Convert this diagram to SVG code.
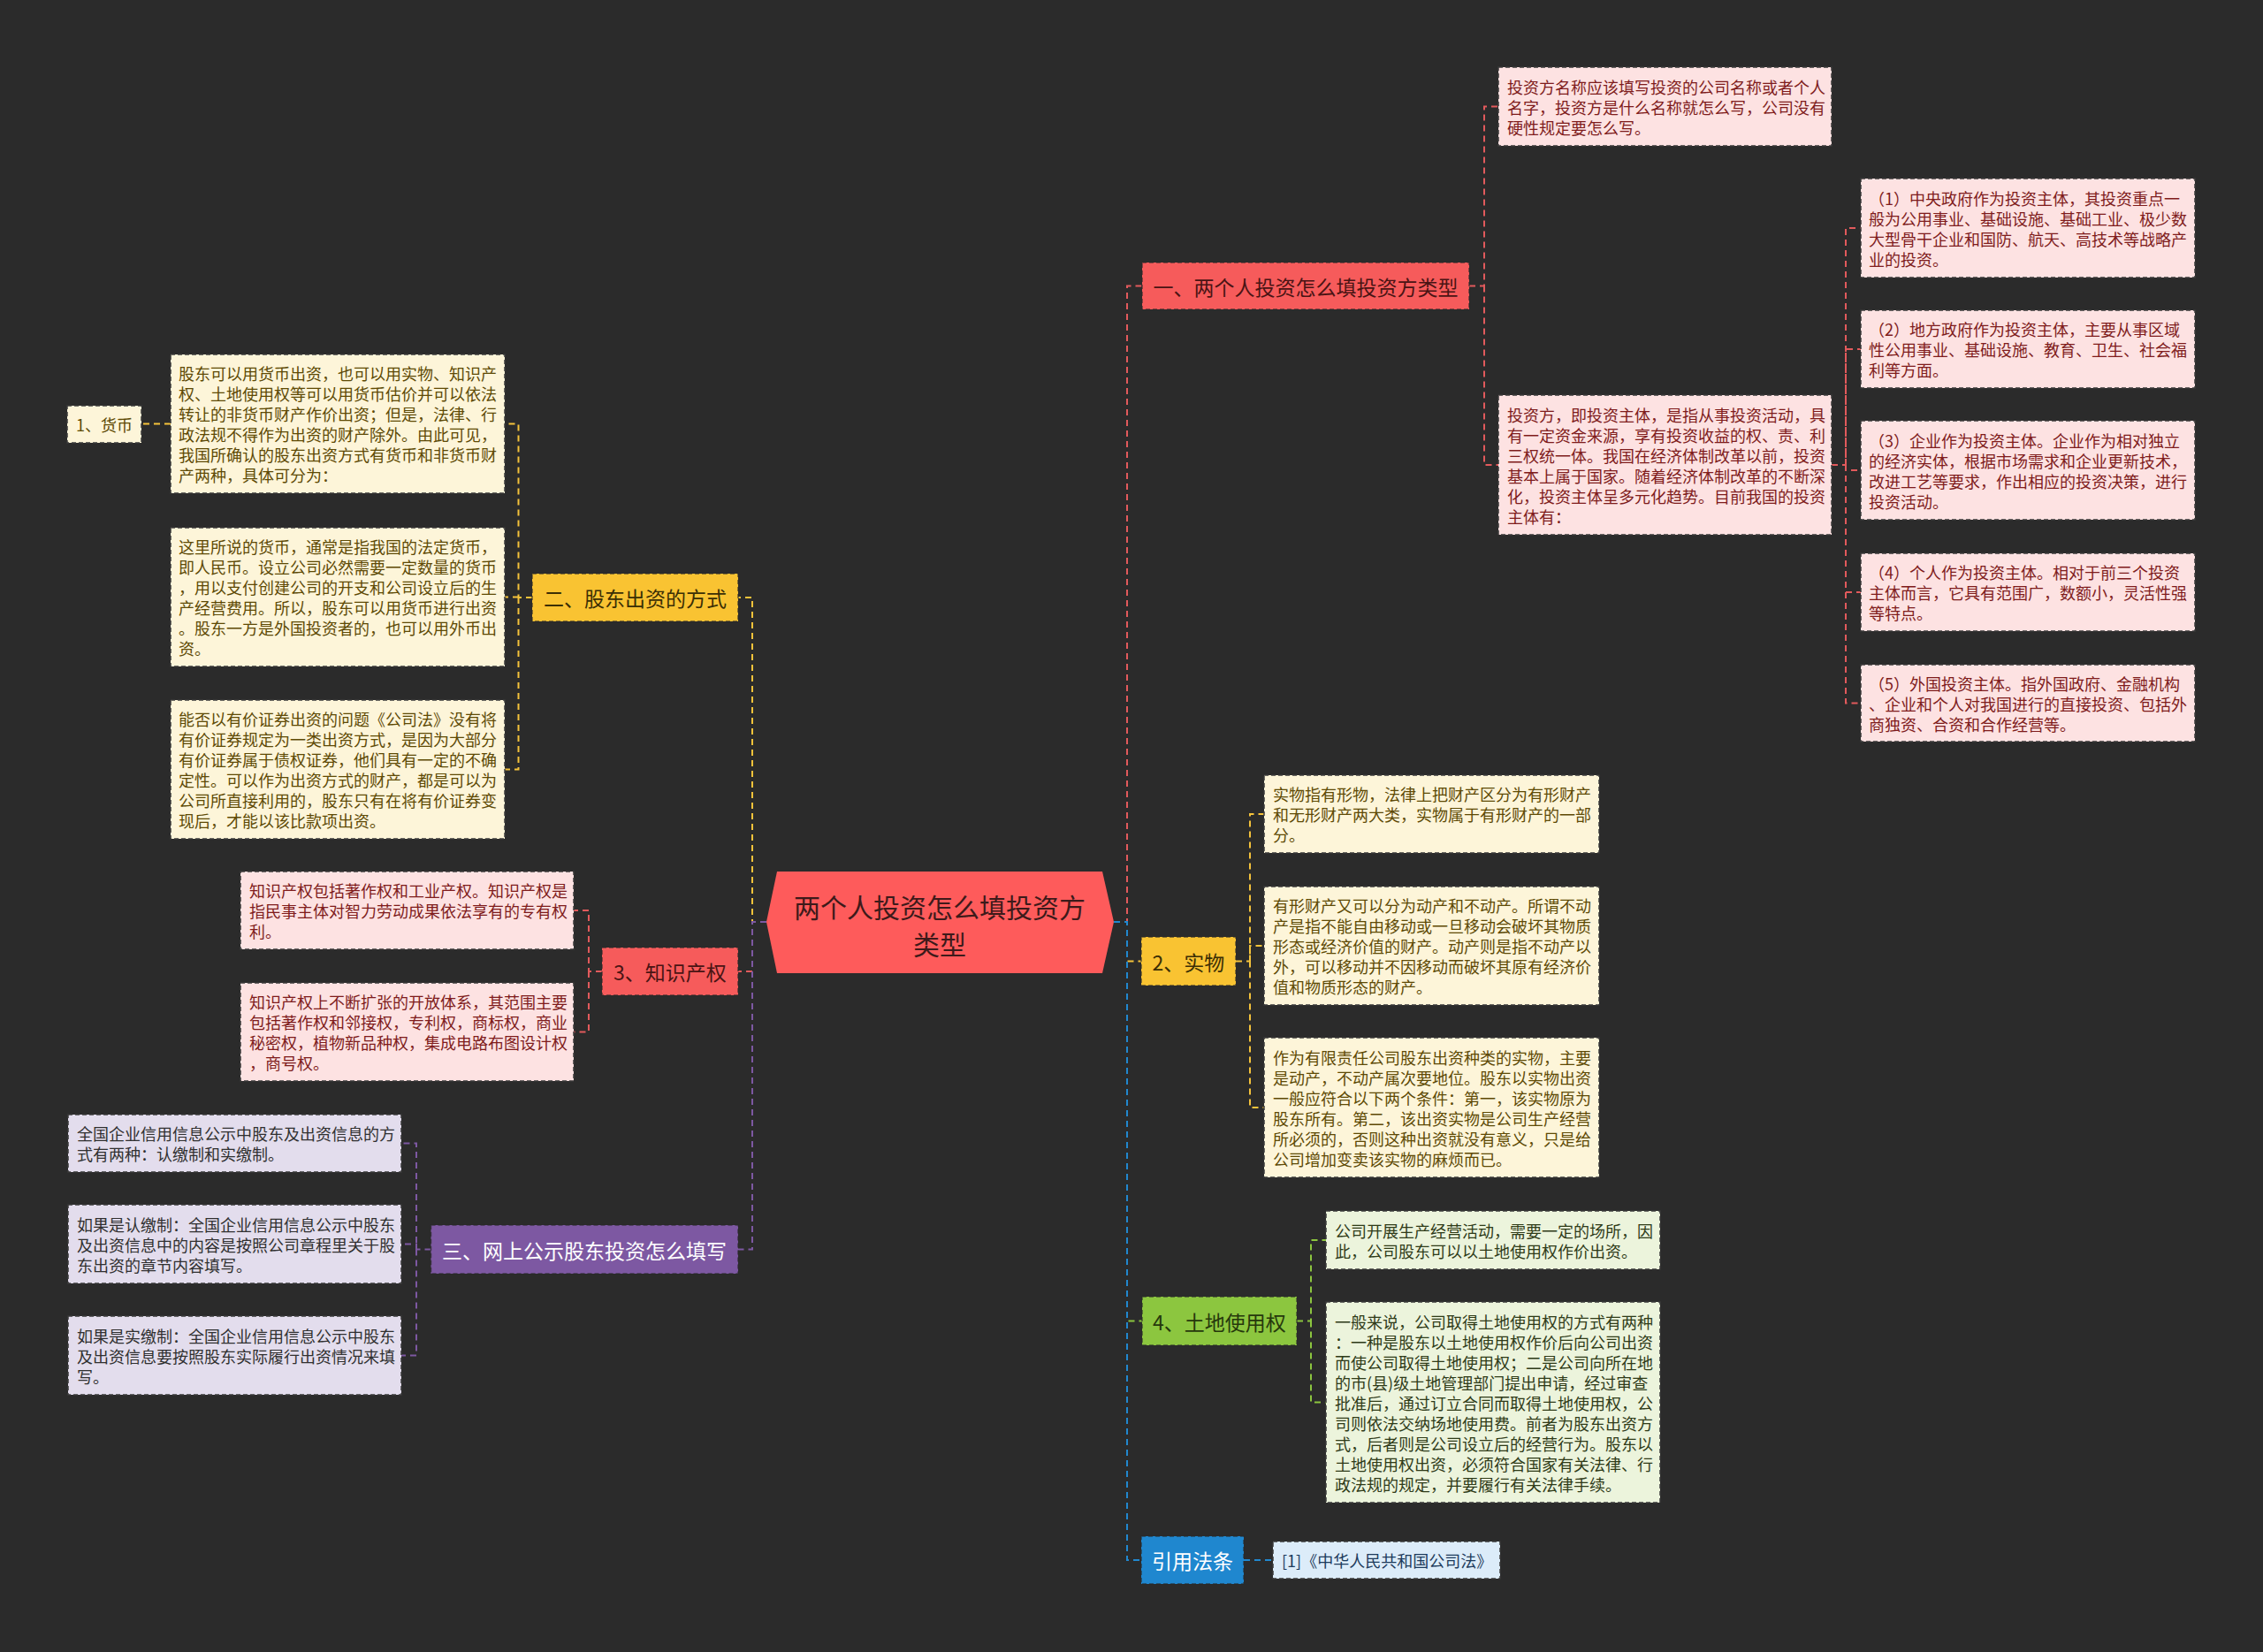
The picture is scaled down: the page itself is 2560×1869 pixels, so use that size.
<svg xmlns="http://www.w3.org/2000/svg" width="2560" height="1869" viewBox="0 0 2560 1869">
<style>
text{font-family:"Noto Sans CJK SC","Microsoft YaHei",sans-serif;dominant-baseline:central}
.t{font-size:18px}
.m{font-size:23px;text-anchor:middle}
.c{font-size:30px;text-anchor:middle;fill:#3d1a1a}
.box{stroke:#3a3a3a;stroke-width:1.5;stroke-dasharray:5 3}
.mb{stroke:#2a2a2a;stroke-opacity:.7;stroke-width:1.5;stroke-dasharray:5 3}
.pk{fill:#fde2e2}.pkt{fill:#7f1c1c}
.cr{fill:#fdf5d9}.crt{fill:#5e4a05}
.lv{fill:#e3dded}.lvt{fill:#303030}
.gr{fill:#ecf4dc}.grt{fill:#2f3b18}
.bl{fill:#dcecf9}.blt{fill:#1d3b5c}
.ln{fill:none;stroke-width:2;stroke-dasharray:7 5}
.lr{stroke:#e25a5c}.ly{stroke:#f5c33b}.lp{stroke:#7d58a2}.lg{stroke:#8cc63f}.lb{stroke:#2188cf}
</style>
<rect width="2560" height="1869" fill="#2b2b2b"/>
<g id="connectors">
<path class="ln lr" d="M1260 1043H1275V323.5H1292"/>
<path class="ln ly" d="M1260 1043H1275V1087.5H1291"/>
<path class="ln lg" d="M1260 1043H1275V1494.5H1292"/>
<path class="ln lb" d="M1260 1043H1275V1765H1291"/>
<path class="ln ly" d="M867 1043H851V676H835"/>
<path class="ln lr" d="M867 1043H851V1099H835"/>
<path class="ln lp" d="M867 1043H851V1413.5H835"/>
<path class="ln lr" d="M1662 323.5H1679V120.5H1695M1679 323.5V526H1695"/>
<path class="ln lr" d="M2072 526H2088V258H2105M2088 526V395H2105M2088 526V532H2105M2088 526V670H2105M2088 526V795.5H2105"/>
<path class="ln ly" d="M1398 1087.5H1414V921H1430M1414 1087.5V1070H1430M1414 1087.5V1253H1430"/>
<path class="ln lg" d="M1467 1494.5H1483V1403H1500M1483 1494.5V1586.5H1500"/>
<path class="ln lb" d="M1407 1765H1440"/>
<path class="ln ly" d="M602 676H586.5V479.5H571M586.5 676V675.5H571M586.5 676V870.5H571"/>
<path class="ln ly" d="M193 479.5H160"/>
<path class="ln lr" d="M681 1099H666V1030H649M666 1099V1167.5H649"/>
<path class="ln lp" d="M487.5 1413.5H471V1293.5H454M471 1413.5V1407.5H454M471 1413.5V1533.5H454"/>
</g>
<g id="center">
<polygon points="879,986 1247,986 1260,1043 1247,1101 879,1101 867,1043" fill="#fe5b5b"/>
<text class="c" x="1063" y="1025">两个人投资怎么填投资方</text>
<text class="c" x="1063" y="1067">类型</text>
</g>
<g id="n1">
<rect class="mb" x="1292" y="297" width="370" height="53" fill="#f65b5b"/>
<text class="m" x="1477" y="323.5" fill="#4a1414">一、两个人投资怎么填投资方类型</text>
</g>
<g id="n1a">
<rect class="box pk" x="1695" y="76" width="377" height="89"/>
<text class="t pkt" x="1705" y="97.5">投资方名称应该填写投资的公司名称或者个人</text>
<text class="t pkt" x="1705" y="120.5">名字，投资方是什么名称就怎么写，公司没有</text>
<text class="t pkt" x="1705" y="143.5">硬性规定要怎么写。</text>
</g>
<g id="n1b">
<rect class="box pk" x="1695" y="447" width="377" height="158"/>
<text class="t pkt" x="1705" y="468.5">投资方，即投资主体，是指从事投资活动，具</text>
<text class="t pkt" x="1705" y="491.5">有一定资金来源，享有投资收益的权、责、利</text>
<text class="t pkt" x="1705" y="514.5">三权统一体。我国在经济体制改革以前，投资</text>
<text class="t pkt" x="1705" y="537.5">基本上属于国家。随着经济体制改革的不断深</text>
<text class="t pkt" x="1705" y="560.5">化，投资主体呈多元化趋势。目前我国的投资</text>
<text class="t pkt" x="1705" y="583.5">主体有：</text>
</g>
<g id="n1b1">
<rect class="box pk" x="2105" y="202" width="378" height="112"/>
<text class="t pkt" x="2114" y="223.5">（1）中央政府作为投资主体，其投资重点一</text>
<text class="t pkt" x="2114" y="246.5">般为公用事业、基础设施、基础工业、极少数</text>
<text class="t pkt" x="2114" y="269.5">大型骨干企业和国防、航天、高技术等战略产</text>
<text class="t pkt" x="2114" y="292.5">业的投资。</text>
</g>
<g id="n1b2">
<rect class="box pk" x="2105" y="351" width="378" height="88"/>
<text class="t pkt" x="2114" y="372">（2）地方政府作为投资主体，主要从事区域</text>
<text class="t pkt" x="2114" y="395">性公用事业、基础设施、教育、卫生、社会福</text>
<text class="t pkt" x="2114" y="418">利等方面。</text>
</g>
<g id="n1b3">
<rect class="box pk" x="2105" y="476" width="378" height="112"/>
<text class="t pkt" x="2114" y="497.5">（3）企业作为投资主体。企业作为相对独立</text>
<text class="t pkt" x="2114" y="520.5">的经济实体，根据市场需求和企业更新技术，</text>
<text class="t pkt" x="2114" y="543.5">改进工艺等要求，作出相应的投资决策，进行</text>
<text class="t pkt" x="2114" y="566.5">投资活动。</text>
</g>
<g id="n1b4">
<rect class="box pk" x="2105" y="626" width="378" height="88"/>
<text class="t pkt" x="2114" y="647">（4）个人作为投资主体。相对于前三个投资</text>
<text class="t pkt" x="2114" y="670">主体而言，它具有范围广，数额小，灵活性强</text>
<text class="t pkt" x="2114" y="693">等特点。</text>
</g>
<g id="n1b5">
<rect class="box pk" x="2105" y="752" width="378" height="87"/>
<text class="t pkt" x="2114" y="772.5">（5）外国投资主体。指外国政府、金融机构</text>
<text class="t pkt" x="2114" y="795.5">、企业和个人对我国进行的直接投资、包括外</text>
<text class="t pkt" x="2114" y="818.5">商独资、合资和合作经营等。</text>
</g>
<g id="n2">
<rect class="mb" x="1291" y="1060" width="107" height="55" fill="#f9c332"/>
<text class="m" x="1344.5" y="1087.5" fill="#3b2f05">2、实物</text>
</g>
<g id="n2a">
<rect class="box cr" x="1430" y="877" width="379" height="88"/>
<text class="t crt" x="1440" y="898">实物指有形物，法律上把财产区分为有形财产</text>
<text class="t crt" x="1440" y="921">和无形财产两大类，实物属于有形财产的一部</text>
<text class="t crt" x="1440" y="944">分。</text>
</g>
<g id="n2b">
<rect class="box cr" x="1430" y="1003" width="379" height="134"/>
<text class="t crt" x="1440" y="1024">有形财产又可以分为动产和不动产。所谓不动</text>
<text class="t crt" x="1440" y="1047">产是指不能自由移动或一旦移动会破坏其物质</text>
<text class="t crt" x="1440" y="1070">形态或经济价值的财产。动产则是指不动产以</text>
<text class="t crt" x="1440" y="1093">外，可以移动并不因移动而破坏其原有经济价</text>
<text class="t crt" x="1440" y="1116">值和物质形态的财产。</text>
</g>
<g id="n2c">
<rect class="box cr" x="1430" y="1174" width="379" height="158"/>
<text class="t crt" x="1440" y="1195.5">作为有限责任公司股东出资种类的实物，主要</text>
<text class="t crt" x="1440" y="1218.5">是动产，不动产属次要地位。股东以实物出资</text>
<text class="t crt" x="1440" y="1241.5">一般应符合以下两个条件：第一，该实物原为</text>
<text class="t crt" x="1440" y="1264.5">股东所有。第二，该出资实物是公司生产经营</text>
<text class="t crt" x="1440" y="1287.5">所必须的，否则这种出资就没有意义，只是给</text>
<text class="t crt" x="1440" y="1310.5">公司增加变卖该实物的麻烦而已。</text>
</g>
<g id="n4">
<rect class="mb" x="1292" y="1467" width="175" height="55" fill="#8cc63f"/>
<text class="m" x="1379.5" y="1494.5" fill="#26380c">4、土地使用权</text>
</g>
<g id="n4a">
<rect class="box gr" x="1500" y="1370" width="378" height="66"/>
<text class="t grt" x="1510" y="1391.5">公司开展生产经营活动，需要一定的场所，因</text>
<text class="t grt" x="1510" y="1414.5">此，公司股东可以以土地使用权作价出资。</text>
</g>
<g id="n4b">
<rect class="box gr" x="1500" y="1473" width="378" height="227"/>
<text class="t grt" x="1510" y="1494.5">一般来说，公司取得土地使用权的方式有两种</text>
<text class="t grt" x="1510" y="1517.5">：一种是股东以土地使用权作价后向公司出资</text>
<text class="t grt" x="1510" y="1540.5">而使公司取得土地使用权；二是公司向所在地</text>
<text class="t grt" x="1510" y="1563.5">的市(县)级土地管理部门提出申请，经过审查</text>
<text class="t grt" x="1510" y="1586.5">批准后，通过订立合同而取得土地使用权，公</text>
<text class="t grt" x="1510" y="1609.5">司则依法交纳场地使用费。前者为股东出资方</text>
<text class="t grt" x="1510" y="1632.5">式，后者则是公司设立后的经营行为。股东以</text>
<text class="t grt" x="1510" y="1655.5">土地使用权出资，必须符合国家有关法律、行</text>
<text class="t grt" x="1510" y="1678.5">政法规的规定，并要履行有关法律手续。</text>
</g>
<g id="n5">
<rect class="mb" x="1291" y="1738" width="116" height="54" fill="#1f87cf"/>
<text class="m" x="1349" y="1765" fill="#ffffff">引用法条</text>
</g>
<g id="n5a">
<rect class="box bl" x="1440" y="1744" width="257" height="42"/>
<text class="t blt" x="1450" y="1765">[1]《中华人民共和国公司法》</text>
</g>
<g id="n6">
<rect class="mb" x="602" y="649" width="233" height="54" fill="#f9c332"/>
<text class="m" x="718.5" y="676" fill="#3b2f05">二、股东出资的方式</text>
</g>
<g id="n6a">
<rect class="box cr" x="193" y="401" width="378" height="157"/>
<text class="t crt" x="202" y="422">股东可以用货币出资，也可以用实物、知识产</text>
<text class="t crt" x="202" y="445">权、土地使用权等可以用货币估价并可以依法</text>
<text class="t crt" x="202" y="468">转让的非货币财产作价出资；但是，法律、行</text>
<text class="t crt" x="202" y="491">政法规不得作为出资的财产除外。由此可见，</text>
<text class="t crt" x="202" y="514">我国所确认的股东出资方式有货币和非货币财</text>
<text class="t crt" x="202" y="537">产两种，具体可分为：</text>
</g>
<g id="n6a1">
<rect class="box cr" x="76" y="459" width="84" height="42"/>
<text class="t crt" x="118" y="480" text-anchor="middle">1、货币</text>
</g>
<g id="n6b">
<rect class="box cr" x="193" y="597" width="378" height="157"/>
<text class="t crt" x="202" y="618">这里所说的货币，通常是指我国的法定货币，</text>
<text class="t crt" x="202" y="641">即人民币。设立公司必然需要一定数量的货币</text>
<text class="t crt" x="202" y="664">，用以支付创建公司的开支和公司设立后的生</text>
<text class="t crt" x="202" y="687">产经营费用。所以，股东可以用货币进行出资</text>
<text class="t crt" x="202" y="710">。股东一方是外国投资者的，也可以用外币出</text>
<text class="t crt" x="202" y="733">资。</text>
</g>
<g id="n6c">
<rect class="box cr" x="193" y="792" width="378" height="157"/>
<text class="t crt" x="202" y="813">能否以有价证券出资的问题《公司法》没有将</text>
<text class="t crt" x="202" y="836">有价证券规定为一类出资方式，是因为大部分</text>
<text class="t crt" x="202" y="859">有价证券属于债权证券，他们具有一定的不确</text>
<text class="t crt" x="202" y="882">定性。可以作为出资方式的财产，都是可以为</text>
<text class="t crt" x="202" y="905">公司所直接利用的，股东只有在将有价证券变</text>
<text class="t crt" x="202" y="928">现后，才能以该比款项出资。</text>
</g>
<g id="n7">
<rect class="mb" x="681" y="1072" width="154" height="54" fill="#f65b5b"/>
<text class="m" x="758" y="1099" fill="#4a1414">3、知识产权</text>
</g>
<g id="n7a">
<rect class="box pk" x="272" y="986" width="377" height="88"/>
<text class="t pkt" x="282" y="1007">知识产权包括著作权和工业产权。知识产权是</text>
<text class="t pkt" x="282" y="1030">指民事主体对智力劳动成果依法享有的专有权</text>
<text class="t pkt" x="282" y="1053">利。</text>
</g>
<g id="n7b">
<rect class="box pk" x="272" y="1112" width="377" height="111"/>
<text class="t pkt" x="282" y="1133">知识产权上不断扩张的开放体系，其范围主要</text>
<text class="t pkt" x="282" y="1156">包括著作权和邻接权，专利权，商标权，商业</text>
<text class="t pkt" x="282" y="1179">秘密权，植物新品种权，集成电路布图设计权</text>
<text class="t pkt" x="282" y="1202">，商号权。</text>
</g>
<g id="n8">
<rect class="mb" x="487.5" y="1386" width="347.5" height="55" fill="#7d58a2"/>
<text class="m" x="661" y="1413.5" fill="#ffffff">三、网上公示股东投资怎么填写</text>
</g>
<g id="n8a">
<rect class="box lv" x="77" y="1261" width="377" height="65"/>
<text class="t lvt" x="87" y="1282">全国企业信用信息公示中股东及出资信息的方</text>
<text class="t lvt" x="87" y="1305">式有两种：认缴制和实缴制。</text>
</g>
<g id="n8b">
<rect class="box lv" x="77" y="1363" width="377" height="89"/>
<text class="t lvt" x="87" y="1384.5">如果是认缴制：全国企业信用信息公示中股东</text>
<text class="t lvt" x="87" y="1407.5">及出资信息中的内容是按照公司章程里关于股</text>
<text class="t lvt" x="87" y="1430.5">东出资的章节内容填写。</text>
</g>
<g id="n8c">
<rect class="box lv" x="77" y="1489" width="377" height="89"/>
<text class="t lvt" x="87" y="1510.5">如果是实缴制：全国企业信用信息公示中股东</text>
<text class="t lvt" x="87" y="1533.5">及出资信息要按照股东实际履行出资情况来填</text>
<text class="t lvt" x="87" y="1556.5">写。</text>
</g>
</svg>
